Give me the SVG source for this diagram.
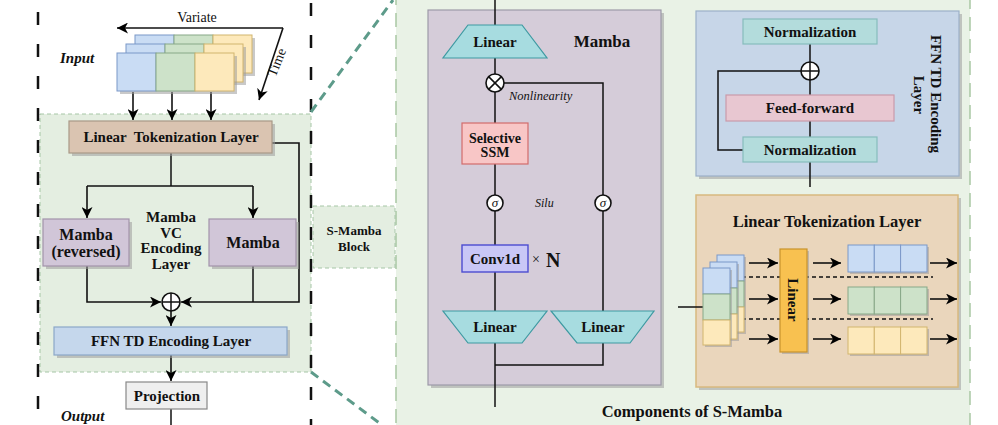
<svg xmlns="http://www.w3.org/2000/svg" width="998" height="425" viewBox="0 0 998 425">
<defs>
<marker id="arr" markerUnits="userSpaceOnUse" markerWidth="12" markerHeight="11" refX="11" refY="5.5" orient="auto">
<path d="M0,0 L11,5.5 L0,11 L3,5.5 z" fill="#000"/>
</marker>
</defs>
<style>
text{font-family:"Liberation Serif","Times New Roman",serif;fill:#111}
.b{font-weight:bold}
.bi{font-weight:bold;font-style:italic}
.it{font-style:italic}
.c{text-anchor:middle}
.ln{fill:none;stroke:#111;stroke-width:1.5}
.la{fill:none;stroke:#111;stroke-width:1.6;marker-end:url(#arr)}
.sh{fill:#9c9c9c;opacity:0.55}
.bdash{fill:none;stroke:#111;stroke-width:2.5;stroke-dasharray:13 19}
.gdash{fill:none;stroke:#5d9b8a;stroke-width:3;stroke-dasharray:9 6}
.blue{fill:#c9dcf4;stroke:#7b98c8;stroke-width:1}
.green{fill:#cde2c9;stroke:#87a887;stroke-width:1}
.yel{fill:#fde9bb;stroke:#d2b56e;stroke-width:1}
.trap{fill:#a7dce0;stroke:#3e9aa2;stroke-width:1.2}
.circ{fill:#fff;stroke:#111;stroke-width:1.6}
.norm{fill:#b3dcdc;stroke:#86bcbc;stroke-width:1.2}
</style>
<rect width="998" height="425" fill="#fff"/>

<g id="backgrounds">
<rect x="396" y="-3" width="574" height="431" fill="#e9f2e6" stroke="#a9c8a4" stroke-width="1.5" stroke-dasharray="14 8"/>
<rect x="40" y="114" width="271" height="258" fill="#e4eee1" stroke="#a6c6a6" stroke-width="1" stroke-dasharray="4 3"/>
<line x1="38" y1="12" x2="38" y2="425" class="bdash"/>
<line x1="311" y1="3" x2="311" y2="425" class="bdash"/>
<line x1="311" y1="112" x2="393" y2="0" class="gdash"/>
<line x1="311" y1="372" x2="382" y2="425" class="gdash"/>
</g>

<g id="s-mamba-block">
<rect x="313" y="206" width="82" height="62" fill="#e4eee1" stroke="#a6c6a6" stroke-width="1" stroke-dasharray="4 3"/>
<text x="354" y="235" class="b c" font-size="13">S-Mamba</text>
<text x="354" y="251" class="b c" font-size="13">Block</text>
</g>

<g id="mamba-panel">
<rect x="431" y="13" width="233" height="375" class="sh"/>
<rect x="428" y="10" width="233" height="375" fill="#d5ccd9" stroke="#9d9aa8" stroke-width="1.2"/>
<text x="602" y="47" class="b c" font-size="17">Mamba</text>
</g>

<g id="ffn-panel">
<rect x="699" y="14" width="263" height="165" class="sh"/>
<rect x="696" y="11" width="263" height="165" fill="#c7d6e8" stroke="#9bb0c8" stroke-width="1.2"/>
<text transform="translate(931,94) rotate(90)" class="b c" font-size="15">FFN TD Encoding</text>
<text transform="translate(914,95) rotate(90)" class="b c" font-size="15">Layer</text>
</g>

<g id="lintok-panel">
<rect x="699" y="198" width="262" height="192" class="sh"/>
<rect x="696" y="195" width="262" height="192" fill="#ead6bc" stroke="#d8b97f" stroke-width="1.5"/>
<text x="827" y="227" class="b c" font-size="16.5">Linear Tokenization Layer</text>
</g>

<g id="connectors">
<path d="M283,28 H117" class="la"/>
<path d="M283,28 L259,100" class="la"/>
<path d="M133,92 V120" class="la"/>
<path d="M172,92 V120" class="la"/>
<path d="M211,92 V120" class="la"/>
<path d="M171,153 V186" class="ln"/>
<path d="M87,186 H253" class="ln"/>
<path d="M87,186 V218" class="la"/>
<path d="M253,186 V218" class="la"/>
<path d="M87,266 V302 H161" class="la"/>
<path d="M253,266 V302" class="ln"/>
<path d="M272,143 H299 V302 H181" class="la"/>
<path d="M171,311 V326" class="la"/>
<path d="M171,355 V381" class="la"/>
<path d="M171,409 V425" class="ln"/>
<path d="M495,0 V407" class="ln"/>
<path d="M504,83 H603 V311" class="ln"/>
<path d="M603,343 V365 H495" class="ln"/>
<path d="M810,44 V187" class="ln"/>
<path d="M743,150 H718 V71 H801" class="ln"/>
<path d="M678,307 H703" class="ln"/>
<path d="M742,277 H933" fill="none" stroke="#111" stroke-width="1.3" stroke-dasharray="4 3"/>
<path d="M742,319 H933" fill="none" stroke="#111" stroke-width="1.3" stroke-dasharray="4 3"/>
<path d="M749,263 H778" class="la"/>
<path d="M749,299 H778" class="la"/>
<path d="M749,339 H778" class="la"/>
<path d="M813,263 H841" class="la"/>
<path d="M813,299 H841" class="la"/>
<path d="M813,339 H841" class="la"/>
<path d="M930,263 H957" class="la"/>
<path d="M930,299 H957" class="la"/>
<path d="M930,339 H957" class="la"/>
</g>

<g id="input">
<text x="60" y="63" class="bi" font-size="15">Input</text>
<text x="197" y="22" font-size="14" class="c">Variate</text>
<text transform="translate(281,64) rotate(-68)" class="c" font-size="14">Time</text>
<g transform="translate(18,-18)">
<rect x="120" y="56" width="117" height="38" class="sh"/>
<rect x="117" y="53" width="39" height="38" class="blue"/><rect x="156" y="53" width="39" height="38" class="green"/><rect x="195" y="53" width="39" height="38" class="yel"/>
</g>
<g transform="translate(9,-9)">
<rect x="120" y="56" width="117" height="38" class="sh"/>
<rect x="117" y="53" width="39" height="38" class="blue"/><rect x="156" y="53" width="39" height="38" class="green"/><rect x="195" y="53" width="39" height="38" class="yel"/>
</g>
<rect x="120" y="56" width="117" height="38" class="sh"/>
<rect x="117" y="53" width="39" height="38" class="blue"/><rect x="156" y="53" width="39" height="38" class="green"/><rect x="195" y="53" width="39" height="38" class="yel"/>
</g>

<g id="linear-tokenization">
<rect x="72" y="124" width="203" height="32" class="sh"/>
<rect x="69" y="121" width="203" height="32" fill="#dac4b1" stroke="#a99987" stroke-width="1.2"/>
<text x="171" y="142" class="b c" font-size="15" xml:space="preserve">Linear  Tokenization Layer</text>
</g>

<g id="mamba-reversed">
<rect x="46" y="222" width="86" height="47" class="sh"/>
<rect x="43" y="219" width="86" height="47" fill="#d1c6d8" stroke="#a293ab" stroke-width="1.2"/>
<text x="86" y="240" class="b c" font-size="16">Mamba</text>
<text x="86" y="257" class="b c" font-size="16">(reversed)</text>
</g>

<g id="mamba-vc-label">
<text x="171" y="222" class="b c" font-size="15">Mamba</text>
<text x="171" y="238" class="b c" font-size="15">VC</text>
<text x="171" y="253" class="b c" font-size="15">Encoding</text>
<text x="171" y="269" class="b c" font-size="15">Layer</text>
</g>

<g id="mamba">
<rect x="212" y="222" width="87" height="47" class="sh"/>
<rect x="209" y="219" width="87" height="47" fill="#d1c6d8" stroke="#a293ab" stroke-width="1.2"/>
<text x="253" y="248" class="b c" font-size="16">Mamba</text>
</g>

<g id="add-left">
<circle cx="171" cy="302" r="9" class="circ"/>
<path d="M162,302 H180 M171,293 V311" class="ln"/>
</g>

<g id="ffn-left">
<rect x="57" y="330" width="233" height="28" class="sh"/>
<rect x="54" y="327" width="233" height="28" fill="#c5d7ec" stroke="#8ba7c9" stroke-width="1.2"/>
<text x="171" y="346" class="b c" font-size="15">FFN TD Encoding Layer</text>
</g>

<g id="projection">
<rect x="126" y="382" width="81" height="27" fill="#efefef" stroke="#888" stroke-width="1.2"/>
<text x="167" y="401" class="b c" font-size="15">Projection</text>
</g>
<text x="61" y="421" class="bi" font-size="15">Output</text>

<g id="m-linear-top">
<polygon points="468,25 522,25 547,58 443,58" class="trap"/>
<text x="495" y="47" class="b c" font-size="15">Linear</text>
</g>
<g id="m-mult">
<circle cx="495" cy="83" r="9" class="circ"/>
<path d="M488.6,76.6 L501.4,89.4 M501.4,76.6 L488.6,89.4" class="ln"/>
<text x="509" y="100" class="it" font-size="12.5">Nonlinearity</text>
</g>
<g id="m-ssm">
<rect x="462" y="123" width="66" height="41" fill="#f8c6c6" stroke="#d26c6c" stroke-width="1.2"/>
<text x="495" y="143" class="b c" font-size="14">Selective</text>
<text x="495" y="157" class="b c" font-size="14">SSM</text>
</g>
<g id="m-sigma-left">
<circle cx="495" cy="203" r="8" class="circ"/>
<text x="495" y="207" class="it c" font-size="13">σ</text>
</g>
<text x="535" y="207" class="it" font-size="12">Silu</text>
<g id="m-sigma-right">
<circle cx="603" cy="203" r="8" class="circ"/>
<text x="603" y="207" class="it c" font-size="13">σ</text>
</g>
<g id="m-conv">
<rect x="462" y="245" width="66" height="27" fill="#c9c7f6" stroke="#4c4cd0" stroke-width="1.4"/>
<text x="495" y="264" class="b c" font-size="15">Conv1d</text>
<text x="532" y="264" font-size="14">×</text>
<text x="546" y="267" class="b" font-size="20">N</text>
</g>
<g id="m-linear-left">
<polygon points="443,311 547,311 522,343 468,343" class="trap"/>
<text x="495" y="332" class="b c" font-size="15">Linear</text>
</g>
<g id="m-linear-right">
<polygon points="551,311 654,311 630,343 577,343" class="trap"/>
<text x="603" y="332" class="b c" font-size="15">Linear</text>
</g>
<text x="692" y="417" class="b c" font-size="16.5">Components of S-Mamba</text>

<g id="f-norm-top">
<rect x="743" y="19" width="134" height="25" class="norm"/>
<text x="810" y="37" class="b c" font-size="15">Normalization</text>
</g>
<g id="f-add">
<circle cx="810" cy="71" r="9" class="circ"/>
<path d="M801,71 H819 M810,62 V80" class="ln"/>
</g>
<g id="f-ff">
<rect x="726" y="95" width="168" height="26" fill="#e8c7d1" stroke="#c99aaa" stroke-width="1.2"/>
<text x="810" y="113" class="b c" font-size="15">Feed-forward</text>
</g>
<g id="f-norm-bottom">
<rect x="743" y="137" width="134" height="25" class="norm"/>
<text x="810" y="155" class="b c" font-size="15">Normalization</text>
</g>

<g id="t-stack">
<g transform="translate(14,-13)">
<rect x="705" y="270" width="27" height="77" class="sh"/>
<rect x="703" y="268" width="27" height="26" class="blue"/><rect x="703" y="294" width="27" height="26" class="green"/><rect x="703" y="320" width="27" height="25" class="yel"/>
</g>
<g transform="translate(7,-6)">
<rect x="705" y="270" width="27" height="77" class="sh"/>
<rect x="703" y="268" width="27" height="26" class="blue"/><rect x="703" y="294" width="27" height="26" class="green"/><rect x="703" y="320" width="27" height="25" class="yel"/>
</g>
<rect x="705" y="270" width="27" height="77" class="sh"/>
<rect x="703" y="268" width="27" height="26" class="blue"/><rect x="703" y="294" width="27" height="26" class="green"/><rect x="703" y="320" width="27" height="25" class="yel"/>
</g>
<g id="t-linear">
<rect x="782" y="251" width="27" height="103" class="sh"/>
<rect x="780" y="249" width="27" height="103" fill="#f8c150" stroke="#c8932c" stroke-width="1.2"/>
<text transform="translate(788,300) rotate(90)" class="b c" font-size="15">Linear</text>
</g>
<g id="t-row1">
<rect x="850" y="247" width="79" height="27" class="sh"/>
<rect x="848" y="245" width="26.3" height="27" class="blue"/><rect x="874.3" y="245" width="26.3" height="27" class="blue"/><rect x="900.6" y="245" width="26.4" height="27" class="blue"/>
</g>
<g id="t-row2">
<rect x="850" y="289" width="79" height="27" class="sh"/>
<rect x="848" y="287" width="26.3" height="27" class="green"/><rect x="874.3" y="287" width="26.3" height="27" class="green"/><rect x="900.6" y="287" width="26.4" height="27" class="green"/>
</g>
<g id="t-row3">
<rect x="850" y="329" width="79" height="27" class="sh"/>
<rect x="848" y="327" width="26.3" height="27" class="yel"/><rect x="874.3" y="327" width="26.3" height="27" class="yel"/><rect x="900.6" y="327" width="26.4" height="27" class="yel"/>
</g>
</svg>
